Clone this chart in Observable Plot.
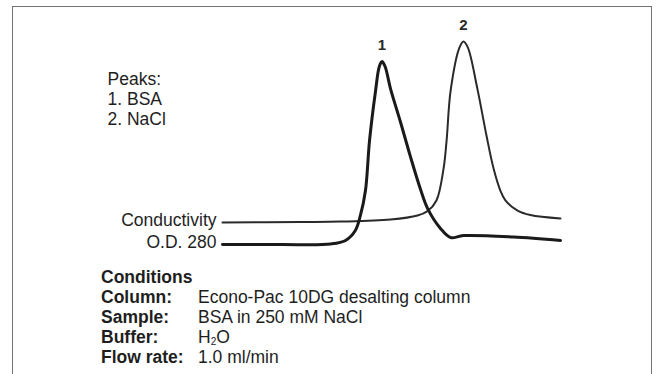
<!DOCTYPE html>
<html>
<head>
<meta charset="utf-8">
<script src="https://cdn.jsdelivr.net/npm/d3@7"></script>
<script src="https://cdn.jsdelivr.net/npm/@observablehq/plot@0.6"></script>
<style>
  html, body { margin: 0; padding: 0; background: #fff; }
  #page {
    position: relative; width: 660px; height: 374px; overflow: hidden;
    font-family: "Liberation Sans", Arial, Helvetica, sans-serif; color: #1e1e1e;
  }
  #frame {
    position: absolute; left: 12px; top: 6px; width: 640px; height: 420px;
    border: 1.5px solid #747474; box-sizing: border-box; pointer-events: none;
  }
  #chart { position: absolute; left: 0; top: 0; }
  #conditions {
    position: absolute; left: 101px; top: 267px;
    font-size: 17.5px; line-height: 20px;
  }
  #conditions .head { font-weight: bold; }
  #conditions .row { display: flex; }
  #conditions .key { width: 97px; font-weight: bold; }
  #conditions sub { font-size: 10px; vertical-align: -2px; line-height: 0; }
</style>
</head>
<body>
<div id="page">
  <div id="chart"></div>
  <div id="conditions"></div>
  <div id="frame"></div>
</div>
<script>
// Elution profile of BSA desalted on an Econo-Pac 10DG column.
// x: elution volume (arbitrary 0–10 units), y: detector response (% of full scale)

// O.D. 280 trace (protein)
const odX = [0, 1.72, 3.20, 3.64, 3.93, 4.08, 4.23, 4.35, 4.53, 4.64, 4.72, 4.81, 4.97, 5.27, 5.56, 5.86, 6.07, 6.45, 6.75, 7.13, 8.61, 10];
const odY = [0, 0, 0.25, 2.0, 6.9, 14.3, 26.6, 51.2, 75.9, 87.7, 90.1, 87.7, 76.8, 60.1, 43.3, 27.1, 17.7, 7.9, 3.4, 4.4, 3.7, 2.0];

// Conductivity trace (salt)
const condX = [0, 2.31, 3.49, 4.97, 5.77, 6.07, 6.33, 6.54, 6.63, 6.75, 7.01, 7.13, 7.26, 7.54, 7.81, 8.02, 8.22, 8.37, 8.73, 9.11, 10];
const condY = [10.8, 11.1, 11.3, 12.3, 14.3, 16.5, 21.7, 37.4, 51.2, 75.9, 97.0, 100, 97.0, 76.8, 53.7, 37.4, 26.6, 21.7, 16.7, 14.5, 12.8];

const traceNames = ["Conductivity", "O.D. 280"];
const peakLabels = ["1", "2"];
const peakNames = ["Peaks:", "1. BSA", "2. NaCl"];

const conditionKeys = ["Column:", "Sample:", "Buffer:", "Flow rate:"];
const conditionValues = ["Econo-Pac 10DG desalting column", "BSA in 250 mM NaCl", "H<sub>2</sub>O", "1.0 ml/min"];

const od = odX.map((x, i) => ({x, y: odY[i]}));
const cond = condX.map((x, i) => ({x, y: condY[i]}));

// peak apexes taken from the traces themselves
const p1 = od[d3.maxIndex(od, d => d.y)];
const p2 = cond[d3.maxIndex(cond, d => d.y)];
const peaks = [{...p1, label: peakLabels[0]}, {...p2, label: peakLabels[1]}];

const starts = [
  {x: cond[0].x, y: cond[0].y, label: traceNames[0]},
  {x: od[0].x, y: od[0].y, label: traceNames[1]}
];

const font = "'Liberation Sans', Arial, Helvetica, sans-serif";

const chart = Plot.plot({
  width: 660,
  height: 262,
  marginLeft: 222,
  marginRight: 100,
  marginTop: 41,
  marginBottom: 18,
  x: {domain: [0, 10], axis: null},
  y: {domain: [0, 100], axis: null},
  style: {fontFamily: font, color: "#1e1e1e", background: "transparent", overflow: "visible"},
  marks: [
    Plot.line(cond, {x: "x", y: "y", curve: "catmull-rom", stroke: "#2a2a2a", strokeWidth: 2}),
    Plot.line(od, {x: "x", y: "y", curve: "catmull-rom", stroke: "#1a1a1a", strokeWidth: 3}),
    Plot.text(peaks, {x: "x", y: "y", text: "label", dy: -16, fontSize: 15, fontWeight: "bold", fill: "#2a2a2a"}),
    Plot.text(starts, {x: "x", y: "y", text: "label", textAnchor: "end", dx: -6, dy: -2, fontSize: 17.5, fill: "#1e1e1e"}),
    Plot.text([peakNames.join("\n")], {
      frameAnchor: "top-left", textAnchor: "start", lineAnchor: "top",
      dx: -115, dy: 29.5, lineHeight: 20 / 17.5, fontSize: 17.5, fill: "#1e1e1e"
    })
  ]
});
document.getElementById("chart").appendChild(chart);

// Run conditions listed under the trace
const cond_el = document.getElementById("conditions");
let html = '<div class="head">Conditions</div>';
conditionKeys.forEach((k, i) => {
  html += `<div class="row"><span class="key">${k}</span><span>${conditionValues[i]}</span></div>`;
});
cond_el.innerHTML = html;
</script>
</body>
</html>
